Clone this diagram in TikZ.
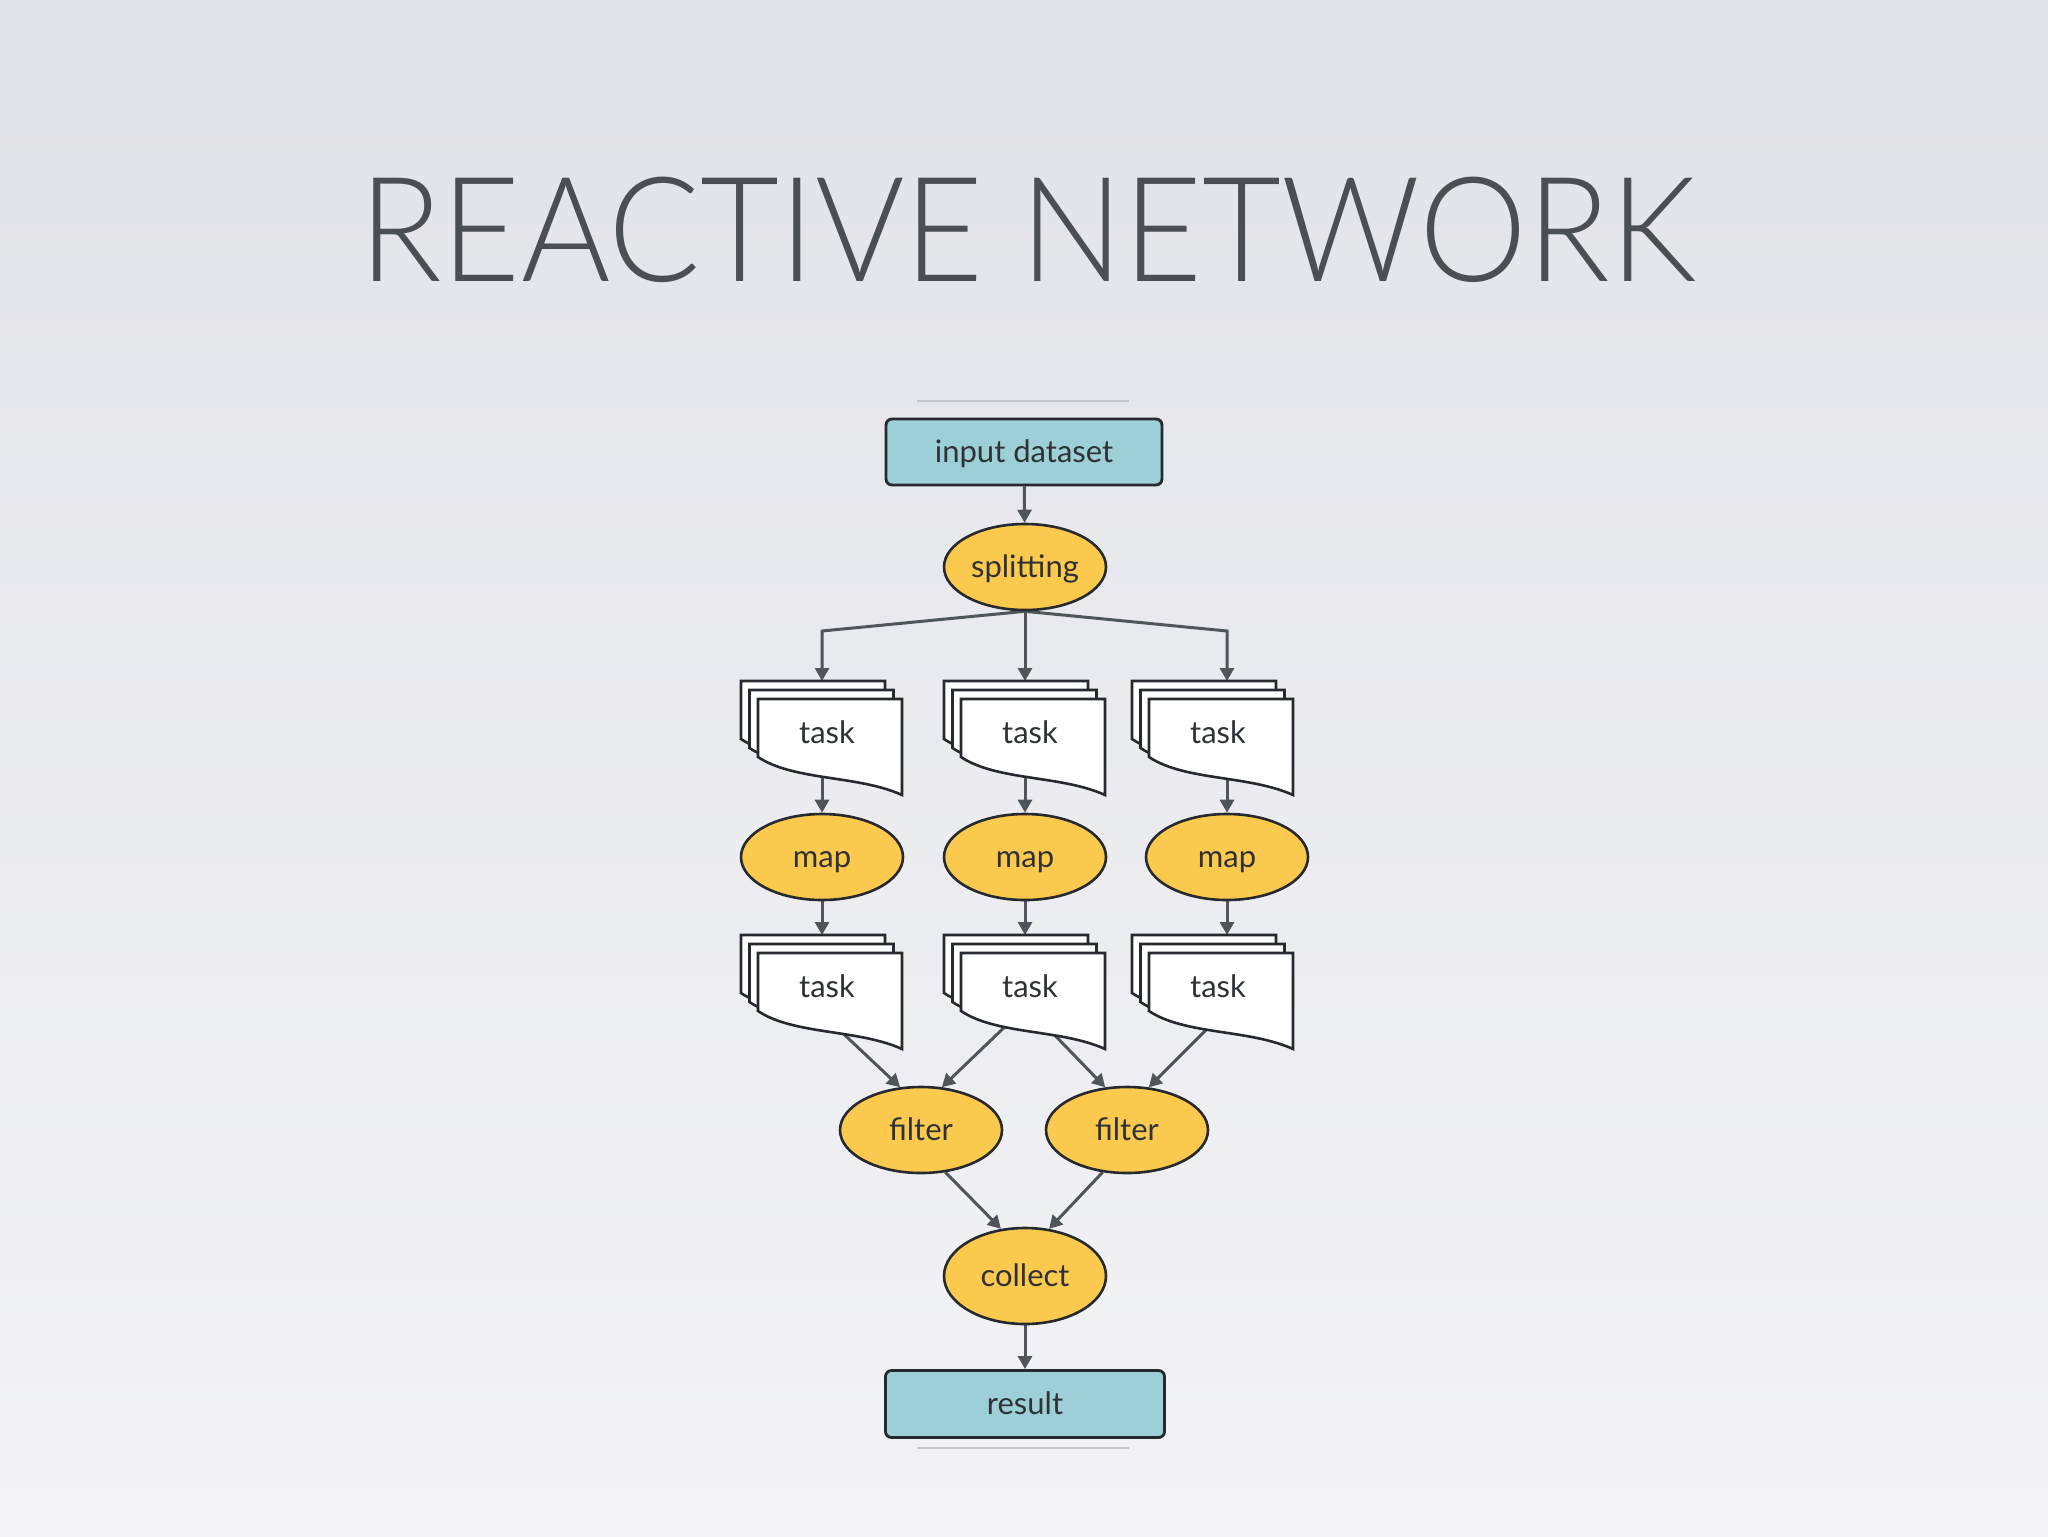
\documentclass[tikz,border=0pt]{standalone}
\usepackage{fontspec}
\setmainfont{Lato}
\newfontfamily\titlefont{Lato Light}[FakeStretch=0.934]
\usetikzlibrary{shapes.geometric,arrows.meta,backgrounds}
\definecolor{bgtop}{HTML}{E2E3E8}
\definecolor{bgbot}{HTML}{F3F3F7}
\definecolor{tealfill}{HTML}{9DCFD6}
\definecolor{goldfill}{HTML}{FAC94E}
\definecolor{edgec}{HTML}{26292D}
\definecolor{connc}{HTML}{50555C}
\definecolor{titlec}{HTML}{4B4E53}
\definecolor{labc}{HTML}{2E3236}
\definecolor{rulec}{HTML}{C6C7CB}
\tikzset{
  lab/.style={font=\fontsize{15.5}{18}\selectfont, text=labc, text height=13pt, text depth=3pt},
  iobox/.style={lab, rectangle, rounded corners=3pt, draw=edgec, line width=1.4pt, fill=tealfill,
    minimum width=138pt, minimum height=33pt, inner sep=0pt},
  op/.style={lab, ellipse, draw=edgec, line width=1.3pt, fill=goldfill,
    minimum width=81pt, minimum height=43pt, inner sep=0pt},
  sheet/.style={draw=edgec, line width=1.3pt, fill=white},
  tasklab/.style={lab, inner sep=0pt},
  arr/.style={draw=connc, line width=1.5pt, -{Triangle[length=6.5pt,width=7pt]}},
  thinrule/.style={draw=rulec, line width=1pt}
}
\newcommand{\taskstack}[3]{%
  \begin{scope}[shift={(#2,#3)}]
    \foreach \dx/\dy in {-17/-18,-8.5/-9,0/0}{
      \filldraw[sheet] (\dx,\dy) -- ({\dx+144},\dy) -- ({\dx+144},{\dy+96})
        .. controls ({\dx+100},{\dy+76}) and ({\dx+36},{\dy+82}) .. (\dx,{\dy+58}) -- cycle;
    }
    \node[tasklab] (#1) at (69,34) {task};
  \end{scope}}
\begin{document}
\begin{tikzpicture}[x=0.5pt,y=-0.5pt]
\begin{pgfonlayer}{background}
  \shade[top color=bgtop, bottom color=bgbot] (0,0) rectangle (2048,1536);
\end{pgfonlayer}
\useasboundingbox (0,0) rectangle (2048,1536);

% title
\node[anchor=base, inner sep=0pt, text=titlec, font=\titlefont\fontsize{73}{80}\selectfont] (title) at (1028,281) {REACTIVE NETWORK};

% thin rules
\coordinate (r1a) at (917,401); \coordinate (r1b) at (1129,401);
\coordinate (r2a) at (917,1448); \coordinate (r2b) at (1129,1448);
\draw[thinrule] (r1a) -- (r1b);
\draw[thinrule] (r2a) -- (r2b);

% nodes
\node[iobox] (in) at (1024,452) {input dataset};
\node[op] (split) at (1025,567) {splitting};

\taskstack{ta1}{758}{699}
\taskstack{ta2}{961}{699}
\taskstack{ta3}{1149}{699}

\node[op] (m1) at (822,857) {map};
\node[op] (m2) at (1025,857) {map};
\node[op] (m3) at (1227,857) {map};

\taskstack{tb1}{758}{953}
\taskstack{tb2}{961}{953}
\taskstack{tb3}{1149}{953}

\node[op] (f1) at (921,1130) {filter};
\node[op] (f2) at (1127,1130) {filter};
\node[op, minimum height=48pt] (col) at (1025,1276) {collect};
\node[iobox, minimum width=139.5pt, minimum height=33.5pt] (res) at (1025,1404) {result};

% helper coordinates
\coordinate (k1) at (822,631);
\coordinate (k3) at (1227,631);
\coordinate (ta1in) at (822,681);
\coordinate (ta2in) at (1025,681);
\coordinate (ta3in) at (1227,681);
\coordinate (ta1out) at (822,760);
\coordinate (ta2out) at (1025,760);
\coordinate (ta3out) at (1227,760);
\coordinate (tb1in) at (822,935);
\coordinate (tb2in) at (1025,935);
\coordinate (tb3in) at (1227,935);
\coordinate (tb1a) at (832,1023);
\coordinate (tb2a) at (1013,1019);
\coordinate (tb2b) at (1041,1021);
\coordinate (tb3a) at (1215,1021);

\begin{pgfonlayer}{background}
  \draw[arr] (in) -- (split);
  \draw[arr] (split.south) -- (k1) -- (ta1in);
  \draw[arr] (split.south) -- (ta2in);
  \draw[arr] (split.south) -- (k3) -- (ta3in);
  \draw[arr] (ta1out) -- (m1);
  \draw[arr] (ta2out) -- (m2);
  \draw[arr] (ta3out) -- (m3);
  \draw[arr] (m1) -- (tb1in);
  \draw[arr] (m2) -- (tb2in);
  \draw[arr] (m3) -- (tb3in);
  \draw[arr] (tb1a) -- (f1.116);
  \draw[arr] (tb2a) -- (f1.64);
  \draw[arr] (tb2b) -- (f2.117);
  \draw[arr] (tb3a) -- (f2.63);
  \draw[arr] (f1.-60) -- (col.117);
  \draw[arr] (f2.-120) -- (col.63);
  \draw[arr] (col) -- (res);
\end{pgfonlayer}
\end{tikzpicture}
\end{document}
